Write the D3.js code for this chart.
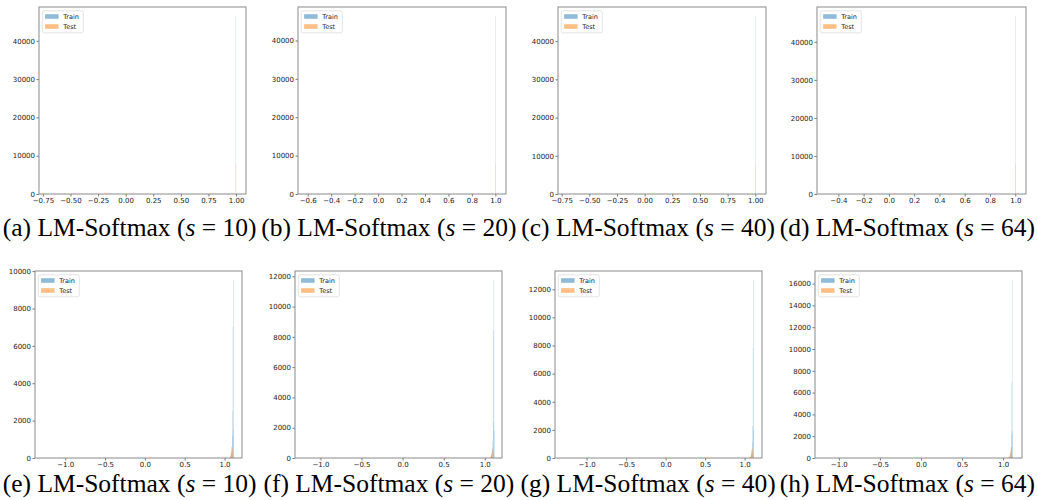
<!DOCTYPE html>
<html>
<head>
<meta charset="utf-8">
<script src="https://cdn.jsdelivr.net/npm/d3@7"></script>
<style>
	body { margin: 0; background: #fff; }
	svg { display: block; font-family: "DejaVu Sans", sans-serif; }
</style>
</head>
<body>
<script>
(function(){
	// ---- Data ----
	const panelIds = ['a', 'b', 'c', 'd', 'e', 'f', 'g', 'h'];
	const scaleValues = [10, 20, 40, 64, 10, 20, 40, 64];
	const seriesNames = ['Train', 'Test'];

	// x extent of each panel, in data units
	const xExtents = [
		[-0.785, 1.09], [-0.683, 1.091], [-0.783, 1.097], [-0.569, 1.085],
		[-1.38, 1.22], [-1.31, 1.21], [-1.40, 1.22], [-1.29, 1.23]
	];
	const xTicks = [
		[-0.75, -0.5, -0.25, 0, 0.25, 0.5, 0.75, 1.0],
		[-0.6, -0.4, -0.2, 0, 0.2, 0.4, 0.6, 0.8, 1.0],
		[-0.75, -0.5, -0.25, 0, 0.25, 0.5, 0.75, 1.0],
		[-0.4, -0.2, 0, 0.2, 0.4, 0.6, 0.8, 1.0],
		[-1.0, -0.5, 0, 0.5, 1.0],
		[-1.0, -0.5, 0, 0.5, 1.0],
		[-1.0, -0.5, 0, 0.5, 1.0],
		[-1.0, -0.5, 0, 0.5, 1.0]
	];
	const xTickFormats = ['.2f', '.1f', '.2f', '.1f', '.1f', '.1f', '.1f', '.1f'];
	const yTicks = [
		[0, 10000, 20000, 30000, 40000],
		[0, 10000, 20000, 30000, 40000],
		[0, 10000, 20000, 30000, 40000],
		[0, 10000, 20000, 30000, 40000],
		[0, 2000, 4000, 6000, 8000, 10000],
		[0, 2000, 4000, 6000, 8000, 10000, 12000],
		[0, 2000, 4000, 6000, 8000, 10000, 12000],
		[0, 2000, 4000, 6000, 8000, 10000, 12000, 14000, 16000]
	];
	const binWidths = [0.002, 0.002, 0.002, 0.002, 0.0035, 0.0035, 0.0035, 0.0035];

	// histogram bins (left edges) and counts
	const topBins = [0.998];
	const bottomBins = [1.06, 1.065, 1.07, 1.075, 1.08, 1.085, 1.09, 1.095, 1.10, 1.105, 1.11, 1.115];
	const trainCounts = [
		[46500], [46400], [46600], [46800],
		[10, 20, 40, 80, 150, 300, 600, 1200, 2500, 7000, 9530, 1500],
		[10, 20, 40, 80, 150, 300, 600, 1100, 2400, 8400, 11760, 1800],
		[10, 20, 40, 70, 140, 280, 550, 1100, 2300, 7800, 12665, 2000],
		[10, 20, 30, 60, 120, 250, 500, 1000, 2200, 7000, 16340, 2500]
	];
	const testCounts = [
		[7900], [7900], [7900], [7900],
		[20, 50, 100, 180, 280, 400, 520, 600, 480, 300, 120, 20],
		[20, 50, 100, 180, 280, 400, 560, 660, 520, 320, 130, 20],
		[20, 50, 100, 180, 300, 420, 580, 700, 560, 340, 140, 20],
		[20, 60, 120, 220, 380, 560, 800, 1000, 820, 480, 180, 30]
	];

	// ---- Layout ----
	const width = 1037, height = 500;
	const axesLeft = [39, 298, 558, 817, 35, 295, 555, 815];
	const axesRight = [246, 506, 766, 1026, 242, 502, 762, 1022];
	const rowTop = [7, 271], rowBottom = [194, 458];
	const captionBase = [236, 492];
	const colors = ['#1f77b4', '#ff7f0e'];

	let svg = d3.select('body').append('svg')
		.attr('width', width)
		.attr('height', height);

	panelIds.forEach((id, i) => {
		let row = i < 4 ? 0 : 1,
			col = i % 4;
		let x = d3.scaleLinear()
			.domain(xExtents[i])
			.range([axesLeft[i], axesRight[i]]);
		let yMax = 1.05 * d3.max(trainCounts[i].concat(testCounts[i]));
		let y = d3.scaleLinear()
			.domain([0, yMax])
			.range([rowBottom[row], rowTop[row]]);

		let g = svg.append('g').attr('class', 'panel');
		let bins = row === 0 ? topBins : bottomBins;

		// Bars, train then test
		[trainCounts[i], testCounts[i]].forEach((counts, s) => {
			g.append('g')
				.selectAll('rect')
				.data(counts).enter()
				.append('rect')
				.attr('x', (d, k) => x(bins[k]))
				.attr('width', (d, k) => x(bins[k] + binWidths[i]) - x(bins[k]))
				.attr('y', d => y(d))
				.attr('height', d => y(0) - y(d))
				.attr('fill', colors[s])
				.attr('fill-opacity', 0.5);
		});

		// Axes
		let xAxis = d3.axisBottom(x)
			.tickValues(xTicks[i])
			.tickFormat(d3.format(xTickFormats[i]))
			.tickSize(2.5)
			.tickPadding(1.5);
		let yAxis = d3.axisLeft(y)
			.tickValues(yTicks[i])
			.tickFormat(d3.format('d'))
			.tickSize(2.5)
			.tickPadding(1.5);

		g.append('g')
			.attr('transform', 'translate(0,' + rowBottom[row] + ')')
			.call(xAxis)
			.call(styleAxis);
		g.append('g')
			.attr('transform', 'translate(' + axesLeft[i] + ',0)')
			.call(yAxis)
			.call(styleAxis);

		// Frame
		g.append('rect')
			.attr('x', axesLeft[i])
			.attr('y', rowTop[row])
			.attr('width', axesRight[i] - axesLeft[i])
			.attr('height', rowBottom[row] - rowTop[row])
			.attr('fill', 'none')
			.attr('stroke', '#8a8a8a')
			.attr('stroke-width', 1);

		// Legend
		let lg = g.append('g')
			.attr('transform', 'translate(' + (axesLeft[i] + 3.3) + ',' + (rowTop[row] + 3.8) + ')');
		lg.append('rect')
			.attr('width', 41)
			.attr('height', 22)
			.attr('rx', 1.5)
			.attr('fill', '#fff')
			.attr('stroke', '#dcdcdc')
			.attr('stroke-width', 0.8);
		let items = lg.selectAll('.item')
			.data(seriesNames).enter()
			.append('g')
			.attr('class', 'item')
			.attr('transform', (d, k) => 'translate(0,' + (5.7 + k * 10) + ')');
		items.append('rect')
			.attr('x', 2.8)
			.attr('y', -2.3)
			.attr('width', 13.5)
			.attr('height', 4.6)
			.attr('fill', (d, k) => colors[k])
			.attr('fill-opacity', 0.5);
		items.append('text')
			.attr('x', 21)
			.attr('dy', '0.35em')
			.attr('font-size', 6.5)
			.attr('fill', '#222')
			.text(d => d);

		// Caption
		let cap = svg.append('text')
			.attr('x', (col + 0.5) * width / 4)
			.attr('y', captionBase[row])
			.attr('text-anchor', 'middle')
			.attr('font-family', '"Liberation Serif", serif')
			.attr('font-size', 25.5)
			.attr('fill', '#000');
		cap.append('tspan').text('(' + id + ') LM-Softmax (');
		cap.append('tspan').attr('font-style', 'italic').text('s');
		cap.append('tspan').text(' = ' + scaleValues[i] + ')');
	});

	function styleAxis(sel){
		sel.select('.domain').remove();
		sel.selectAll('.tick line')
			.attr('stroke', '#555')
			.attr('stroke-width', 0.8);
		sel.selectAll('.tick text')
			.attr('font-size', 7)
			.attr('font-family', '"DejaVu Sans", sans-serif')
			.attr('fill', '#222');
	}
})();
</script>
</body>
</html>
